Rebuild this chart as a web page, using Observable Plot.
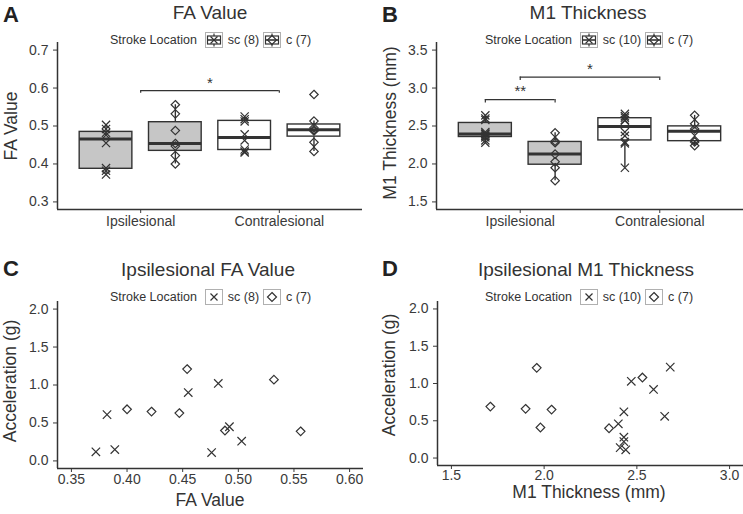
<!DOCTYPE html>
<html><head><meta charset="utf-8">
<script src="https://cdn.jsdelivr.net/npm/d3@7"></script>
<script src="https://cdn.jsdelivr.net/npm/@observablehq/plot@0.6"></script>
<style>
html,body{margin:0;padding:0;background:#fff;overflow:hidden}
#root{position:relative;width:743px;height:514px;font-family:"Liberation Sans",Arial,Helvetica,sans-serif;color:#333;background:#fff}
.abs{position:absolute;white-space:nowrap}
.letter{font-weight:bold;font-size:22px;line-height:1;color:#222}
.title{font-size:19px;line-height:1;transform:translateX(-50%)}
.ytitle{font-size:17.5px;line-height:1;transform:translate(-50%,-50%) rotate(-90deg)}
.xtitle{font-size:17.5px;line-height:1;transform:translate(-50%,-50%)}
.legend{display:flex;align-items:center;font-size:12.5px;line-height:1;transform:translateY(-50%)}
.legend svg{display:block}
</style>
</head><body><div id="root"></div>
<script>
// ---------- data ----------
const categories = ["Ipsilesional", "Contralesional"];
const locations = ["sc", "c"];

// Panel A: FA value per hemisphere & stroke location
const faIpsiSc   = [0.372, 0.382, 0.389, 0.455, 0.476, 0.482, 0.492, 0.503];
const faIpsiC    = [0.400, 0.422, 0.447, 0.454, 0.488, 0.532, 0.556];
const faContraSc = [0.430, 0.433, 0.438, 0.462, 0.478, 0.512, 0.518, 0.525];
const faContraC  = [0.433, 0.457, 0.487, 0.490, 0.495, 0.513, 0.583];
const faTicks = [0.3, 0.4, 0.5, 0.6, 0.7];
const faLegend = ["sc (8)", "c (7)"];

// Panel B: M1 thickness (mm)
const m1IpsiSc   = [2.28, 2.31, 2.35, 2.37, 2.39, 2.40, 2.42, 2.58, 2.60, 2.64];
const m1IpsiC    = [1.78, 1.95, 2.03, 2.13, 2.28, 2.30, 2.41];
const m1ContraSc = [1.95, 2.27, 2.29, 2.37, 2.42, 2.57, 2.58, 2.61, 2.63, 2.66];
const m1ContraC  = [2.24, 2.29, 2.31, 2.43, 2.46, 2.53, 2.64];
const m1Ticks = [1.5, 2.0, 2.5, 3.0, 3.5];
const m1Legend = ["sc (10)", "c (7)"];

// significance brackets
const faBrackets = [{from: "Ipsilesional", to: "Contralesional", y: 0.593, drop: 0.007, label: "*"}];
const m1Brackets = [
  {from: "Ipsilesional/sc", to: "Ipsilesional/c", y: 2.848, drop: 0.045, label: "**"},
  {from: "Ipsilesional", to: "Contralesional", y: 3.145, drop: 0.045, label: "*"}
];

// Panel C: ipsilesional FA vs acceleration
const cScFA  = [0.372, 0.382, 0.389, 0.455, 0.476, 0.482, 0.492, 0.503];
const cScAcc = [0.12, 0.61, 0.15, 0.90, 0.11, 1.02, 0.45, 0.26];
const cCFA   = [0.400, 0.422, 0.447, 0.454, 0.488, 0.532, 0.556];
const cCAcc  = [0.68, 0.65, 0.63, 1.21, 0.40, 1.07, 0.39];
const cXTicks = [0.35, 0.40, 0.45, 0.50, 0.55, 0.60];

// Panel D: ipsilesional M1 thickness vs acceleration
const dScM1  = [2.40, 2.43, 2.43, 2.43, 2.41, 2.44, 2.47, 2.59, 2.65, 2.68];
const dScAcc = [0.46, 0.62, 0.28, 0.22, 0.14, 0.11, 1.03, 0.92, 0.56, 1.22];
const dCM1   = [1.71, 1.90, 1.96, 1.98, 2.04, 2.35, 2.53];
const dCAcc  = [0.69, 0.66, 1.21, 0.41, 0.65, 0.40, 1.08];
const dXTicks = [1.5, 2.0, 2.5, 3.0];
const accTicks = [0, 0.5, 1.0, 1.5, 2.0];

// ---------- helpers ----------
const root = document.getElementById("root");
const INK = "#333";
const DODGE = 0.25, HALF = 0.19;
function place(el, left, top) {
  el.style.position = "absolute"; el.style.left = left + "px"; el.style.top = top + "px";
  root.appendChild(el); return el;
}
function textDiv(cls, txt, left, top) {
  const d = document.createElement("div");
  d.className = "abs " + cls; d.textContent = txt;
  return place(d, left, top);
}
function keySVG(sym, box) {
  let s = '<svg width="18" height="16">';
  s += '<rect x="0.5" y="0.5" width="17" height="15" fill="#fff" stroke="#b0b0b0"/>';
  if (box) {
    s += '<line x1="9" x2="9" y1="1.5" y2="14.5" stroke="#333" stroke-width="1.2"/>';
    s += '<rect x="2.5" y="4" width="13" height="8" fill="#fff" stroke="#333" stroke-width="1.2"/>';
    s += '<line x1="2.5" x2="15.5" y1="8" y2="8" stroke="#333" stroke-width="1.6"/>';
  }
  if (sym === "sc") s += '<path d="M5.5,4.5L12.5,11.5M12.5,4.5L5.5,11.5" fill="none" stroke="#333" stroke-width="1.2"/>';
  else s += '<path d="M9,3.5L13.5,8L9,12.5L4.5,8Z" fill="none" stroke="#333" stroke-width="1.2"/>';
  return s + "</svg>";
}
function legend(labels, box, left, top) {
  const d = document.createElement("div");
  d.className = "abs legend";
  let h = '<span>Stroke Location</span>';
  labels.forEach((lab, i) => {
    h += `<span style="margin-left:${i ? 4 : 8}px">${keySVG(locations[i], box)}</span>`;
    h += `<span style="margin-left:5px">${lab}</span>`;
  });
  d.innerHTML = h;
  return place(d, left, top);
}
const baseStyle = {fontFamily: '"Liberation Sans", Arial, sans-serif', fontSize: "14px", color: "#3a3a3a", background: "transparent", overflow: "visible"};

function posOf(key) {
  const [hemi, loc] = key.split("/");
  return categories.indexOf(hemi) + 1 + (loc ? (loc === "sc" ? -DODGE : DODGE) : 0);
}

function boxPanel({groups, yDomain, yTicks, brackets, width, height, margins}) {
  const stats = groups.map(g => {
    const s = g.values.slice().sort(d3.ascending);
    const q1 = d3.quantile(s, 0.25), med = d3.quantile(s, 0.5), q3 = d3.quantile(s, 0.75), iqr = q3 - q1;
    const lo = d3.min(s.filter(v => v >= q1 - 1.5 * iqr)), hi = d3.max(s.filter(v => v <= q3 + 1.5 * iqr));
    const xc = posOf(g.hemi + "/" + g.loc);
    return {...g, xc, q1, med, q3, lo, hi, x1: xc - HALF, x2: xc + HALF};
  });
  const pts = stats.flatMap(g => g.values.map(v => ({x: g.xc, y: v, loc: g.loc})));
  const br = brackets.map(b => ({...b, x1: posOf(b.from), x2: posOf(b.to), xm: (posOf(b.from) + posOf(b.to)) / 2, yb: b.y - b.drop}));
  const xDomain = [0.4, 2.6];
  return Plot.plot({
    width, height, ...margins,
    style: baseStyle,
    x: {domain: xDomain, ticks: [1, 2], tickFormat: d => categories[Math.round(d) - 1], tickSize: 4, tickPadding: 3, label: null},
    y: {domain: yDomain, ticks: yTicks, tickFormat: d => d.toFixed(1), tickSize: 4, tickPadding: 5, label: null},
    color: {type: "ordinal", domain: categories, range: ["#c6c6c6", "#ffffff"]},
    symbol: {domain: locations, range: ["times", "diamond2"]},
    marks: [
      Plot.ruleX([xDomain[0]], {stroke: INK, strokeWidth: 1.5}),
      Plot.ruleY([yDomain[0]], {stroke: INK, strokeWidth: 1.5}),
      Plot.ruleX(stats, {x: "xc", y1: "lo", y2: "q1", stroke: INK, strokeWidth: 1.4}),
      Plot.ruleX(stats, {x: "xc", y1: "q3", y2: "hi", stroke: INK, strokeWidth: 1.4}),
      Plot.rect(stats, {x1: "x1", x2: "x2", y1: "q1", y2: "q3", fill: "hemi", stroke: INK, strokeWidth: 1.4}),
      Plot.ruleY(stats, {y: "med", x1: "x1", x2: "x2", stroke: INK, strokeWidth: 3}),
      Plot.dot(pts, {x: "x", y: "y", symbol: "loc", r: 3.8, fill: "none", stroke: INK, strokeWidth: 1.2}),
      Plot.ruleY(br, {y: "y", x1: "x1", x2: "x2", stroke: INK, strokeWidth: 1.2}),
      Plot.ruleX(br, {x: "x1", y1: "yb", y2: "y", stroke: INK, strokeWidth: 1.2}),
      Plot.ruleX(br, {x: "x2", y1: "yb", y2: "y", stroke: INK, strokeWidth: 1.2}),
      Plot.text(br, {x: "xm", y: "y", text: "label", dy: -8, fontSize: 15, fill: INK})
    ]
  });
}

function scatterPanel({sc, c, xDomain, xTicks, xFmt, tickPad, width, height, margins}) {
  const pts = sc.x.map((x, i) => ({x, y: sc.y[i], loc: "sc"})).concat(c.x.map((x, i) => ({x, y: c.y[i], loc: "c"})));
  const yDomain = [-0.1, 2.1];
  return Plot.plot({
    width, height, ...margins,
    style: baseStyle,
    x: {domain: xDomain, ticks: xTicks, tickFormat: xFmt, tickSize: 4, tickPadding: tickPad, label: null},
    y: {domain: yDomain, ticks: accTicks, tickFormat: d => d.toFixed(1), tickSize: 4, tickPadding: 5, label: null},
    symbol: {domain: locations, range: ["times", "diamond2"]},
    marks: [
      Plot.ruleX([xDomain[0]], {stroke: INK, strokeWidth: 1.5}),
      Plot.ruleY([yDomain[0]], {stroke: INK, strokeWidth: 1.5}),
      Plot.dot(pts, {x: "x", y: "y", symbol: "loc", r: 3.9, fill: "none", stroke: INK, strokeWidth: 1.2})
    ]
  });
}

// ---------- Panel A ----------
place(boxPanel({
  groups: [
    {hemi: "Ipsilesional", loc: "sc", values: faIpsiSc},
    {hemi: "Ipsilesional", loc: "c", values: faIpsiC},
    {hemi: "Contralesional", loc: "sc", values: faContraSc},
    {hemi: "Contralesional", loc: "c", values: faContraC}
  ],
  yDomain: [0.28, 0.72], yTicks: faTicks, brackets: faBrackets,
  width: 370, height: 245, margins: {marginLeft: 57, marginRight: 8, marginTop: 42, marginBottom: 36}
}), 0, 0);

// ---------- Panel B ----------
place(boxPanel({
  groups: [
    {hemi: "Ipsilesional", loc: "sc", values: m1IpsiSc},
    {hemi: "Ipsilesional", loc: "c", values: m1IpsiC},
    {hemi: "Contralesional", loc: "sc", values: m1ContraSc},
    {hemi: "Contralesional", loc: "c", values: m1ContraC}
  ],
  yDomain: [1.4, 3.6], yTicks: m1Ticks, brackets: m1Brackets,
  width: 373, height: 245, margins: {marginLeft: 66, marginRight: 0, marginTop: 42, marginBottom: 36}
}), 370, 0);

// ---------- Panel C ----------
place(scatterPanel({
  sc: {x: cScFA, y: cScAcc}, c: {x: cCFA, y: cCAcc},
  xDomain: [0.3375, 0.6125], xTicks: cXTicks, xFmt: d => d.toFixed(2), tickPad: 2,
  width: 370, height: 254, margins: {marginLeft: 57, marginRight: 7, marginTop: 41, marginBottom: 46}
}), 0, 260);

// ---------- Panel D ----------
place(scatterPanel({
  sc: {x: dScM1, y: dScAcc}, c: {x: dCM1, y: dCAcc},
  xDomain: [1.425, 3.075], xTicks: dXTicks, xFmt: d => d.toFixed(1), tickPad: 1,
  width: 373, height: 254, margins: {marginLeft: 67, marginRight: 0, marginTop: 41, marginBottom: 49}
}), 370, 260);

// ---------- text ----------
textDiv("letter", "A", 3, 4);
textDiv("letter", "B", 382, 4);
textDiv("letter", "C", 3, 258);
textDiv("letter", "D", 382, 258);

textDiv("title", "FA Value", 210, 3);
textDiv("title", "M1 Thickness", 588, 3);
textDiv("title", "Ipsilesional FA Value", 208, 260);
textDiv("title", "Ipsilesional M1 Thickness", 586, 260);

textDiv("ytitle", "FA Value", 12, 126);
textDiv("ytitle", "M1 Thickness (mm)", 391, 123);
textDiv("ytitle", "Acceleration (g)", 11, 381);
textDiv("ytitle", "Acceleration (g)", 390, 375);

textDiv("xtitle", "FA Value", 210, 501);
textDiv("xtitle", "M1 Thickness (mm)", 589, 493);

legend(faLegend, true, 110, 40);
legend(m1Legend, true, 485, 40);
legend(faLegend, false, 110, 297);
legend(m1Legend, false, 485, 297);
</script>
</body></html>
